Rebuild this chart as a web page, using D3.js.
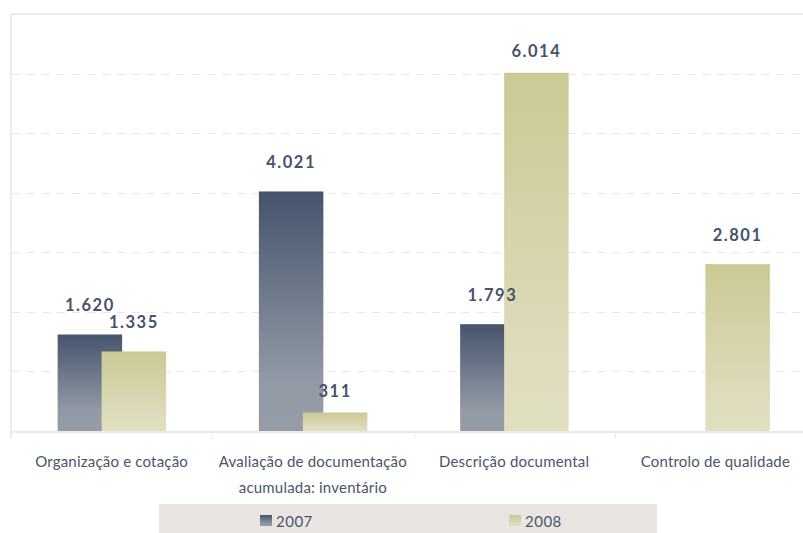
<!DOCTYPE html>
<html><head><meta charset="utf-8">
<script src="https://cdn.jsdelivr.net/npm/d3@7"></script>
<style>
body{margin:0;background:#fff;}
svg{display:block;}
text{font-family:"Lato","Open Sans",sans-serif;}
</style></head>
<body>
<svg id="chart" width="803" height="533"></svg>
<script>
const categories = [["Organização e cotação"], ["Avaliação de documentação","acumulada: inventário"], ["Descrição documental"], ["Controlo de qualidade"]];
const series2007 = [1620, 4021, 1793, null];
const series2008 = [1335, 311, 6014, 2801];
const seriesNames = ["2007", "2008"];
const gridTicks = [1000, 2000, 3000, 4000, 5000, 6000];
const fmt = v => d3.format(",")(v).replace(/,/g, ".");

(function(){
const svg = d3.select("#chart");
const mLeft = 11, mRight = 816, mTop = 14, mBottom = 431;
const x = d3.scaleBand().domain(d3.range(categories.length)).range([mLeft, mRight]);
const y = d3.scaleLinear().domain([0, 7000]).range([mBottom, mTop]);

const defs = svg.append("defs");
const g1 = defs.append("linearGradient").attr("id","g2007").attr("x1",0).attr("y1",0).attr("x2",0).attr("y2",1);
g1.append("stop").attr("offset","0").attr("stop-color","#46546c");
g1.append("stop").attr("offset","0.8").attr("stop-color","#929aa6");
g1.append("stop").attr("offset","1").attr("stop-color","#959ca8");
const g2 = defs.append("linearGradient").attr("id","g2008").attr("x1",0).attr("y1",0).attr("x2",0).attr("y2",1);
g2.append("stop").attr("offset","0").attr("stop-color","#cbc994");
g2.append("stop").attr("offset","0.8").attr("stop-color","#dedcbb");
g2.append("stop").attr("offset","1").attr("stop-color","#e0dfc0");

// frame
svg.append("line").attr("x1",mLeft).attr("x2",803).attr("y1",mTop).attr("y2",mTop).attr("stroke","#eeeae6").attr("stroke-width",2);
svg.append("line").attr("x1",mLeft).attr("x2",mLeft).attr("y1",mTop-1).attr("y2",mBottom+7).attr("stroke","#eeeae6").attr("stroke-width",2);

// grid
svg.append("g").selectAll("line").data(gridTicks).join("line")
  .attr("x1",mLeft+1).attr("x2",803)
  .attr("y1",d=>Math.round(y(d))+0.5).attr("y2",d=>Math.round(y(d))+0.5)
  .attr("stroke","#ebe6e0").attr("stroke-dasharray","8,7");

// bars
const bw = 64.5;
const off2007 = -54, off2008 = -10;
const center = i => x(i) + x.bandwidth()/2;
const bars = svg.append("g");
bars.selectAll("rect.a").data(series2007.map((v,i)=>({v,i})).filter(d=>d.v!=null)).join("rect")
  .attr("class","a").attr("x",d=>center(d.i)+off2007).attr("width",bw)
  .attr("y",d=>y(d.v)).attr("height",d=>mBottom-y(d.v)).attr("fill","url(#g2007)");
bars.selectAll("rect.b").data(series2008.map((v,i)=>({v,i}))).join("rect")
  .attr("class","b").attr("x",d=>center(d.i)+off2008).attr("width",bw)
  .attr("y",d=>y(d.v)).attr("height",d=>mBottom-y(d.v)).attr("fill","url(#g2008)");

// baseline + ticks
svg.append("line").attr("x1",mLeft).attr("x2",803).attr("y1",mBottom+1).attr("y2",mBottom+1).attr("stroke","#ece8e3").attr("stroke-width",2);
svg.append("g").selectAll("line").data(d3.range(1,categories.length)).join("line")
  .attr("x1",i=>Math.round(x(i))+0.5).attr("x2",i=>Math.round(x(i))+0.5)
  .attr("y1",mBottom).attr("y2",mBottom+7).attr("stroke","#ece8e3");

// value labels (gap above bar; smaller gap for the tallest and the shortest bar, as in the original)
const gap = v => (v > 6000 || v < 500) ? 15.5 : 23;
const lab = svg.append("g").attr("font-size",16.5).attr("font-weight","bold").attr("fill","#46536a").attr("text-anchor","middle").attr("letter-spacing","1.5px");
series2007.forEach((v,i)=>{ if(v!=null) lab.append("text").attr("x",center(i)+off2007+bw/2).attr("y",y(v)-gap(v)).text(fmt(v)); });
series2008.forEach((v,i)=>{ lab.append("text").attr("x",center(i)+off2008+bw/2).attr("y",y(v)-gap(v)).text(fmt(v)); });

// category labels
const cl = svg.append("g").attr("font-size",15).attr("fill","#4a556a").attr("text-anchor","middle").attr("letter-spacing","0.2px");
categories.forEach((lines,i)=>{
  lines.forEach((t,j)=>{
    cl.append("text").attr("x",center(i)).attr("y",467+j*26).text(t);
  });
});

// legend
svg.append("rect").attr("x",159).attr("y",504).attr("width",498).attr("height",29).attr("fill","#e9e5e2");
const lg = svg.append("g");
const legendX = [260, 509];
seriesNames.forEach((s,i)=>{
  lg.append("rect").attr("x",legendX[i]).attr("y",515).attr("width",12).attr("height",11).attr("fill",`url(#g${s})`);
  lg.append("text").attr("x",legendX[i]+16).attr("y",527).attr("font-size",15).attr("fill","#4a556a").attr("letter-spacing","0.5px").text(s);
});
})();
</script>
</body></html>
